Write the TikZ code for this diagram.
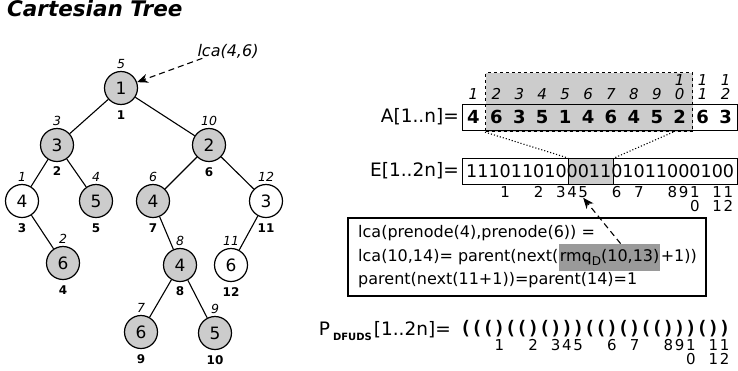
\documentclass[tikz,border=0pt]{standalone}
\usepackage{fontspec}
\setmainfont{DejaVu Sans}
\newfontfamily\monofont{DejaVu Sans Mono}
\usepackage{tikz}
\usetikzlibrary{arrows.meta,positioning}
\definecolor{nodegray}{HTML}{CCCCCC}
\definecolor{rmqgray}{HTML}{9A9A9A}
\newcommand{\fsz}[1]{\fontsize{#1}{#1}\selectfont}

\begin{document}
\begin{tikzpicture}[x=1pt,y=-1pt]
                \tikzstyle{every node}+=[inner sep=0pt]
                \tikzstyle{tnode}=[circle,draw=black,line width=1.2pt,minimum size=33pt,font=\fsz{17}]
                \tikzstyle{gnode}=[tnode,fill=nodegray]
                \tikzstyle{wnode}=[tnode,fill=white]
                \tikzstyle{ilbl}=[font=\fsz{12.5}\itshape]
                \tikzstyle{blbl}=[font=\fsz{12}\bfseries]
                \tikzstyle{edge}=[line width=1.1pt]
                \tikzstyle{idx}=[font=\fsz{15}\itshape]
                \tikzstyle{num}=[font=\fsz{15}]
                \tikzstyle{cellbox}=[draw,line width=1.1pt,anchor=north west,minimum height=26pt]
                \tikzstyle{txt}=[font=\fsz{16}]
                \tikzstyle{ptr}=[dashed,dash pattern=on 6pt off 4pt,line width=1.1pt,-{Stealth[length=11pt,width=9pt]}]
                \useasboundingbox (0,0) rectangle (738,370);
                \node[anchor=west,font=\fsz{21.5}\bfseries\itshape] (title) at (7,8) {Cartesian Tree};
                % tree
                \node[gnode] (n1) at (121,88) {1};
                \node[gnode] (n3) at (57,145) {3};
                \node[gnode] (n2) at (209,145) {2};
                \node[wnode] (n4a) at (22,201) {4};
                \node[gnode] (n5a) at (96,201) {5};
                \node[gnode] (n4b) at (153,201) {4};
                \node[wnode] (n3b) at (266,201) {3};
                \node[gnode] (n6a) at (63,263) {6};
                \node[gnode] (n4c) at (180,265) {4};
                \node[wnode] (n6b) at (231,265) {6};
                \node[gnode] (n6c) at (141,332) {6};
                \node[gnode] (n5b) at (215,333) {5};
                \draw[edge] (n1) -- (n3);
                \draw[edge] (n1) -- (n2);
                \draw[edge] (n3) -- (n4a);
                \draw[edge] (n3) -- (n5a);
                \draw[edge] (n2) -- (n4b);
                \draw[edge] (n2) -- (n3b);
                \draw[edge] (n4a) -- (n6a);
                \draw[edge] (n4b) -- (n4c);
                \draw[edge] (n3b) -- (n6b);
                \draw[edge] (n4c) -- (n6c);
                \draw[edge] (n4c) -- (n5b);
                \node[ilbl,above=2.5pt of n1] (r1) {5};
                \node[blbl,below=5pt of n1] (p1) {1};
                \node[ilbl,above=2.5pt of n3] (r3) {3};
                \node[blbl,below=4pt of n3] (p3) {2};
                \node[ilbl,above=2.5pt of n2] (r2) {10};
                \node[blbl,below=5pt of n2] (p2) {6};
                \node[ilbl,above=2.5pt of n4a] (r4a) {1};
                \node[blbl,below=5pt of n4a] (p4a) {3};
                \node[ilbl,above=2.5pt of n5a] (r5a) {4};
                \node[blbl,below=5pt of n5a] (p5a) {5};
                \node[ilbl,above=2.5pt of n4b] (r4b) {6};
                \node[blbl,below=5pt of n4b] (p4b) {7};
                \node[ilbl,above=2.5pt of n3b] (r3b) {12};
                \node[blbl,below=5pt of n3b] (p3b) {11};
                \node[ilbl,above=2.5pt of n6a] (r6a) {2};
                \node[blbl,below=5pt of n6a] (p6a) {4};
                \node[ilbl,above=2.5pt of n4c] (r4c) {8};
                \node[blbl,below=4pt of n4c] (p4c) {8};
                \node[ilbl,above=2.5pt of n6b] (r6b) {11};
                \node[blbl,below=5pt of n6b] (p6b) {12};
                \node[ilbl,above=2.5pt of n6c] (r6c) {7};
                \node[blbl,below=5pt of n6c] (p6c) {9};
                \node[ilbl,above=2.5pt of n5b] (r5b) {9};
                \node[blbl,below=5pt of n5b] (p5b) {10};
                \node[font=\fsz{16}\itshape] (lca) at (228,51) {lca(4,6)};
                \draw[ptr] ([xshift=5pt]lca.south west) -- (n1);
                % array A
                \node[anchor=east,font=\fsz{18.5}] (alabel) at (459,117) {A[1..n]=};
                \node[cellbox,dashed,fill=nodegray,minimum width=207pt,minimum height=59pt] (win) at (485,72) {};
                \node[cellbox,minimum width=275pt] (abox) at (462,104) {};
                \foreach \v [count=\i] in {4,6,3,5,1,4,6,4,5,2,6,3}
                    \node[font=\fsz{18}\bfseries] (a\i) at (462+\i*22.92-11.46,117) {\v};
                \foreach \i in {1,...,9}
                    \node[idx] (ai\i) at (462+\i*22.92-11.46,94) {\i};
                \foreach \i/\t/\b in {10/1/0,11/1/1,12/1/2}{
                    \node[idx] (aj\i) at (462+\i*22.92-11.46,80) {\t};
                    \node[idx] (ai\i) at (462+\i*22.92-11.46,94) {\b};
                }
                % array E
                \node[anchor=east,font=\fsz{18.5}] (elabel) at (459,171) {E[1..2n]=};
                \node[cellbox,minimum width=275pt] (ebox) at (462,158) {};
                \node[cellbox,fill=nodegray,minimum width=45pt] (ehl) at (568,158) {};
                \node[anchor=west,font=\fsz{17.55}] (ebits) at (466,171) {111011010001101011000100};
                \foreach \k/\t in {4/1,7/2,9/3,10/4,11/5,14/6,16/7,19/8,20/9}
                    \node[num] (el\k) at (466+\k*11.16-5.58,192) {\t};
                \foreach \k/\t/\b in {21/1/0,23/1/1,24/1/2}{
                    \node[num] (el\k) at (466+\k*11.16-5.58,192) {\t};
                    \node[num] (elb\k) at (466+\k*11.16-5.58,206) {\b};
                }
                \draw[dotted,line width=1.1pt] (win.south west) -- (ehl.north west);
                \draw[dotted,line width=1.1pt] ([xshift=-20pt]win.south east) -- (ehl.north east);
                % query
                \node[draw,line width=1.2pt,minimum width=358pt,minimum height=78pt] (qbox) at (527,257) {};
                \node[txt,anchor=west] (q1) at (358,233) {lca(prenode(4),prenode(6)) =};
                \node[txt,anchor=west] (q2) at (358,257) {lca(10,14)= parent(next(};
                \node[txt,anchor=base west,fill=rmqgray,inner xsep=1pt,minimum height=27pt] (rmq) at (q2.base east) {rmq\raisebox{-4pt}{\fsz{12}D}(10,13)};
                \node[txt,anchor=base west] (q2b) at (rmq.base east) {+1))};
                \node[txt,anchor=west] (q3) at (358,280) {parent(next(11+1))=parent(14)=1};
                \draw[ptr] ([xshift=11pt]rmq.north) -- (el11.south);
                % P_DFUDS
                \node[anchor=east,font=\fsz{18.5}] (plabel) at (451,331) {P\kern3pt\raisebox{-5pt}{\fsz{10}\bfseries DFUDS}\kern2pt[1..2n]=};
                \node[anchor=west,font=\fsz{18.7}\monofont\bfseries] (paren) at (460,329) {((()(()()))(()()(()))())};
                \foreach \k/\t in {4/1,7/2,9/3,10/4,11/5,14/6,16/7,19/8,20/9}
                    \node[num] (pl\k) at (460+\k*11.26-5.63,345) {\t};
                \foreach \k/\t/\b in {21/1/0,23/1/1,24/1/2}{
                    \node[num] (pl\k) at (460+\k*11.26-5.63,345) {\t};
                    \node[num] (plb\k) at (460+\k*11.26-5.63,359) {\b};
                }
\end{tikzpicture}
\end{document}
